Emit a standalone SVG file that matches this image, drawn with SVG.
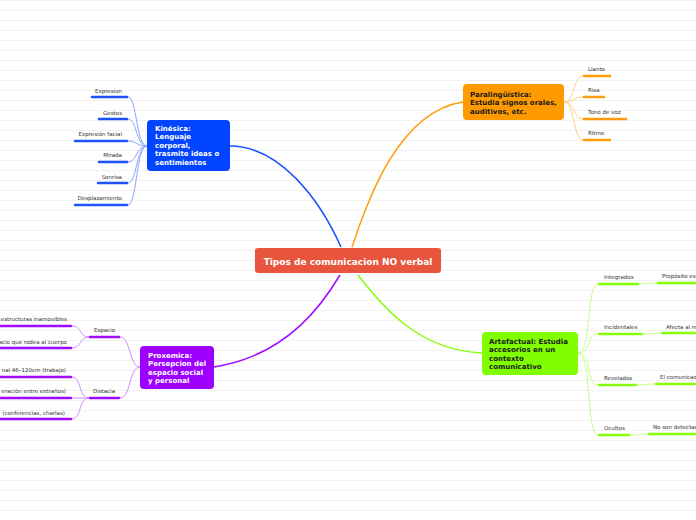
<svg xmlns="http://www.w3.org/2000/svg" width="696" height="520" viewBox="0 0 696 520">
<defs>
<pattern id="ruled" width="696" height="10" patternUnits="userSpaceOnUse">
<line x1="0" y1="0.5" x2="696" y2="0.5" stroke="#f2f2f2" stroke-width="1"/>
</pattern>
<style>
.main{font-family:"DejaVu Sans",Verdana,sans-serif;font-weight:bold;font-size:7px}
.sm{font-family:"DejaVu Sans",Verdana,sans-serif;font-size:5.5px;fill:#333}
.w{fill:#fff}
.d{fill:#1a1a1a}
.c{fill:none}
.bl{stroke:#1f52ff}
.blp{stroke:#8aa6ff}
.or{stroke:#ff9d0a}
.orp{stroke:#ffcf85}
.pu{stroke:#9f0bff}
.pup{stroke:#cf8cff}
.gr{stroke:#85ff0a}
.grp{stroke:#c4ff8a}
.bar{stroke-width:2.5;stroke-linecap:round}
</style>
</defs>
<rect width="696" height="520" fill="#fff"/>
<rect width="696" height="520" fill="url(#ruled)"/>

<g id="connectors" class="c">
<path class="bl" stroke-width="1.5" d="M230,146 C280,146 320,200 341,247"/>
<path class="or" stroke-width="1.5" d="M352,247 C364,212 395,112 463,102"/>
<path class="pu" stroke-width="1.5" d="M340,275 C325,300 290,355 214,367"/>
<path class="gr" stroke-width="1.5" d="M358,275 C385,310 420,350 482,353"/>

<g class="blp" stroke-width="1">
<path d="M128,97 C137,97 136,146 147,146"/>
<path d="M128,119 C137,119 136,146 147,146"/>
<path d="M128,141 C137,141 136,146 147,146"/>
<path d="M128,162 C137,162 136,146 147,146"/>
<path d="M128,183 C137,183 136,146 147,146"/>
<path d="M128,205 C137,205 136,146 147,146"/>
</g>
<g class="orp" stroke-width="1">
<path d="M564,102 C575,102 573,76 583,76"/>
<path d="M564,102 C575,102 573,97 583,97"/>
<path d="M564,102 C575,102 573,119 583,119"/>
<path d="M564,102 C575,102 573,140 583,140"/>
</g>
<g class="pup" stroke-width="1">
<path d="M140,367 C129,367 131,337 120,337"/>
<path d="M140,367 C129,367 131,398 120,398"/>
<path d="M89,337 C79,337 82,326 72,326"/>
<path d="M89,337 C79,337 82,348 72,348"/>
<path d="M89,398 C78,398 82,377 72,377"/>
<path d="M89,398 L72,398"/>
<path d="M89,398 C78,398 82,419 72,419"/>
</g>
<g class="grp" stroke-width="1">
<path d="M578,353 C592,353 586,284 598,284"/>
<path d="M578,353 C592,353 586,334 598,334"/>
<path d="M578,353 C592,353 586,385 598,385"/>
<path d="M578,353 C592,353 586,435 598,435"/>
<path d="M638,284 C648,284 648,283 657,283"/>
<path d="M642,334 C652,334 652,333 661,333"/>
<path d="M636,385 C646,385 646,384 655,384"/>
<path d="M630,435 C640,435 640,434 648,434"/>
</g>
</g>

<g id="center">
<rect x="255" y="248" width="186" height="25" rx="3" fill="#e8553e"/>
<text class="main w" x="348" y="264.5" font-size="9" text-anchor="middle" style="font-size:9px">Tipos de comunicacion NO verbal</text>
</g>

<g id="kinesica">
<rect x="147" y="120" width="83" height="51" rx="4" fill="#0044ff"/>
<text class="main w" x="155" y="130.5">Kinésica:</text>
<text class="main w" x="155" y="139">Lenguaje</text>
<text class="main w" x="155" y="147.5">corporal,</text>
<text class="main w" x="155" y="156">trasmite ideas o</text>
<text class="main w" x="155" y="164.5">sentimientos</text>
</g>
<g id="k-expresion"><line class="bl bar" x1="92" y1="97" x2="127" y2="97"/><text class="sm" x="122" y="93" text-anchor="end">Expresion</text></g>
<g id="k-gestos"><line class="bl bar" x1="99" y1="119" x2="127" y2="119"/><text class="sm" x="122" y="114.5" text-anchor="end">Gestos</text></g>
<g id="k-facial"><line class="bl bar" x1="75" y1="141" x2="127" y2="141"/><text class="sm" x="122" y="135.5" text-anchor="end">Expresión facial</text></g>
<g id="k-mirada"><line class="bl bar" x1="99" y1="162" x2="127" y2="162"/><text class="sm" x="122" y="157" text-anchor="end">Mirada</text></g>
<g id="k-sonrisa"><line class="bl bar" x1="98" y1="183" x2="127" y2="183"/><text class="sm" x="122" y="178.5" text-anchor="end">Sonrisa</text></g>
<g id="k-desplazamiento"><line class="bl bar" x1="75" y1="205" x2="127" y2="205"/><text class="sm" x="122" y="200" text-anchor="end">Desplazamiento</text></g>

<g id="paralinguistica">
<rect x="463" y="84" width="101" height="36" rx="4" fill="#ff9900"/>
<text class="main d" x="470" y="96.5">Paralingüística:</text>
<text class="main d" x="470" y="105">Estudia signos orales,</text>
<text class="main d" x="470" y="113.5">auditivos, etc.</text>
</g>
<g id="p-llanto"><line class="or bar" x1="584" y1="76" x2="610" y2="76"/><text class="sm" x="588" y="71">Llanto</text></g>
<g id="p-risa"><line class="or bar" x1="584" y1="97" x2="604" y2="97"/><text class="sm" x="588" y="92">Risa</text></g>
<g id="p-tono"><line class="or bar" x1="584" y1="119" x2="626" y2="119"/><text class="sm" x="588" y="114">Tono de voz</text></g>
<g id="p-ritmo"><line class="or bar" x1="584" y1="140" x2="610" y2="140"/><text class="sm" x="588" y="135">Ritmo</text></g>

<g id="proxemica">
<rect x="140" y="346" width="74" height="43" rx="4" fill="#9e00ff"/>
<text class="main w" x="148" y="357.5">Proxemica:</text>
<text class="main w" x="148" y="366">Persepcion del</text>
<text class="main w" x="148" y="374.5">espacio social</text>
<text class="main w" x="148" y="383">y personal</text>
</g>
<g id="x-espacio"><line class="pu bar" x1="90" y1="337" x2="119" y2="337"/><text class="sm" x="115" y="331.5" text-anchor="end">Espacio</text></g>
<g id="x-distacia"><line class="pu bar" x1="90" y1="398" x2="119" y2="398"/><text class="sm" x="115" y="393" text-anchor="end">Distacia</text></g>
<g id="x-estructuras"><line class="pu bar" x1="-5" y1="326" x2="71" y2="326"/><text class="sm" x="67" y="321" text-anchor="end">estructuras inamovibles</text></g>
<g id="x-cuerpo"><line class="pu bar" x1="-5" y1="348" x2="71" y2="348"/><text class="sm" x="67" y="343.5" text-anchor="end">acio que rodea al cuerpo</text></g>
<g id="x-trabajo"><line class="pu bar" x1="-5" y1="377" x2="71" y2="377"/><text class="sm" x="66" y="372" text-anchor="end">nal 46–120cm (trabajo)</text></g>
<g id="x-extranos"><line class="pu bar" x1="-5" y1="398" x2="71" y2="398"/><text class="sm" x="66" y="393" text-anchor="end">eración entre extraños)</text></g>
<g id="x-conferencias"><line class="pu bar" x1="-5" y1="419" x2="71" y2="419"/><text class="sm" x="65" y="414.5" text-anchor="end">(conferencias, charlas)</text></g>

<g id="artefactual">
<rect x="482" y="332" width="96" height="43" rx="4" fill="#80ff00"/>
<text class="main d" x="489" y="343.5">Artefactual: Estudia</text>
<text class="main d" x="489" y="352">accesorios en un</text>
<text class="main d" x="489" y="360.5">contexto</text>
<text class="main d" x="489" y="369">comunicativo</text>
</g>
<g id="a-integrados"><line class="gr bar" x1="599" y1="284" x2="638" y2="284"/><text class="sm" x="604" y="279">Integrados</text></g>
<g id="a-incidentales"><line class="gr bar" x1="599" y1="334" x2="642" y2="334"/><text class="sm" x="604" y="329">Incidentales</text></g>
<g id="a-revelados"><line class="gr bar" x1="599" y1="385" x2="636" y2="385"/><text class="sm" x="604" y="380">Revelados</text></g>
<g id="a-ocultos"><line class="gr bar" x1="599" y1="435" x2="629" y2="435"/><text class="sm" x="604" y="430">Ocultos</text></g>
<g id="a-proposito"><line class="gr bar" x1="658" y1="283" x2="700" y2="283"/><text class="sm" x="662" y="278">Propósito es</text></g>
<g id="a-afecta"><line class="gr bar" x1="662" y1="333" x2="700" y2="333"/><text class="sm" x="666" y="328.5">Afecta al re</text></g>
<g id="a-comunicad"><line class="gr bar" x1="656" y1="384" x2="700" y2="384"/><text class="sm" x="660" y="379">El comunicad</text></g>
<g id="a-detectad"><line class="gr bar" x1="649" y1="434" x2="700" y2="434"/><text class="sm" x="653" y="429">No son detectad</text></g>
</svg>
